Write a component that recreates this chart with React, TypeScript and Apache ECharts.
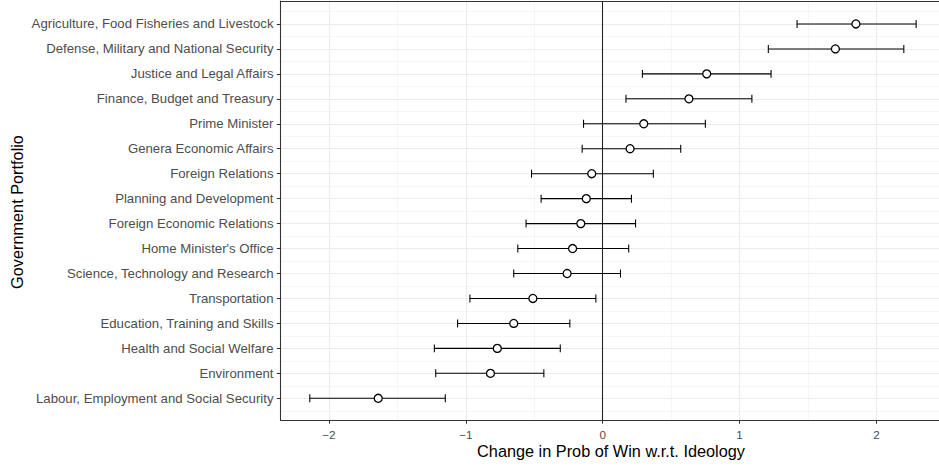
import React, { useEffect, useRef } from 'react';
import * as echarts from 'echarts';

// Categories listed top to bottom
const categories = [
  'Agriculture, Food Fisheries and Livestock',
  'Defense, Military and National Security',
  'Justice and Legal Affairs',
  'Finance, Budget and Treasury',
  'Prime Minister',
  'Genera Economic Affairs',
  'Foreign Relations',
  'Planning and Development',
  'Foreign Economic Relations',
  "Home Minister's Office",
  'Science, Technology and Research',
  'Transportation',
  'Education, Training and Skills',
  'Health and Social Welfare',
  'Environment',
  'Labour, Employment and Social Security',
];
const estimates = [1.85, 1.70, 0.76, 0.63, 0.30, 0.20, -0.08, -0.12, -0.16, -0.22, -0.26, -0.51, -0.65, -0.77, -0.82, -1.64];
const lowers = [1.42, 1.21, 0.29, 0.17, -0.14, -0.15, -0.52, -0.45, -0.56, -0.62, -0.65, -0.97, -1.06, -1.23, -1.22, -2.14];
const uppers = [2.29, 2.20, 1.23, 1.09, 0.75, 0.57, 0.37, 0.21, 0.24, 0.19, 0.13, -0.05, -0.24, -0.31, -0.43, -1.15];
const xTicks = [-2, -1, 0, 1, 2];
const xMinorTicks = [-1.5, -0.5, 0.5, 1.5];
const xTitle = 'Change in Prob of Win w.r.t. Ideology';
const yTitle = 'Government Portfolio';

const FONT = '"Liberation Sans", Arial, Helvetica, sans-serif';

export default function App() {
  const ref = useRef<HTMLDivElement>(null);
  useEffect(() => {
    if (!ref.current) return;
    const chart = echarts.init(ref.current, undefined, { renderer: 'svg' });
    const n = categories.length;
    const yPos = categories.map((_, i) => n - i);
    const yTicks = yPos.slice().sort((a, b) => a - b);
    const yMinor: number[] = [];
    for (let k = 0; k <= n; k++) yMinor.push(k + 0.5);
    const yName = (v: number) => categories[n - Math.round(v)] ?? '';

    const xMin = -2.354;
    const xMax = 2.457;
    const yMin = 0.13;
    const yMax = 16.92;
    const major = { color: '#ebebeb', width: 1.07 };
    const minor = { color: '#f0f0f0', width: 0.6 };
    const dark = '#333333';

    chart.setOption({
      animation: false,
      grid: { left: 280.5, right: 0, top: 1, bottom: 50 },
      xAxis: [
        {
          type: 'value', position: 'bottom', min: xMin, max: xMax,
          axisLine: { show: true, onZero: false, lineStyle: { color: dark, width: 1.07 } },
          axisTick: { show: true, length: 3.7, customValues: xTicks, lineStyle: { color: dark, width: 1.07 } },
          axisLabel: {
            customValues: xTicks, margin: 8, color: '#4d4d4d', fontSize: 11.7, fontFamily: FONT,
            formatter: (v: number) => String(v).replace('-', '\u2212'),
          },
          splitLine: { show: true, lineStyle: major },
        },
        {
          type: 'value', position: 'top', min: xMin, max: xMax,
          axisLine: { show: true, onZero: false, lineStyle: { color: dark, width: 1.07 } },
          axisTick: { show: false, customValues: xMinorTicks },
          axisLabel: { show: false, customValues: xMinorTicks },
          splitLine: { show: true, lineStyle: minor },
        },
      ],
      yAxis: [
        {
          type: 'value', position: 'left', min: yMin, max: yMax,
          axisLine: { show: true, onZero: false, lineStyle: { color: dark, width: 1.07 } },
          axisTick: { show: true, length: 3.7, customValues: yTicks, lineStyle: { color: dark, width: 1.07 } },
          axisLabel: {
            customValues: yTicks, margin: 7, color: '#4d4d4d', fontSize: 13.2, fontFamily: FONT,
            formatter: (v: number) => yName(v),
          },
          splitLine: { show: true, lineStyle: major },
        },
        {
          type: 'value', position: 'right', min: yMin, max: yMax,
          axisLine: { show: false, onZero: false },
          axisTick: { show: false, customValues: yMinor },
          axisLabel: { show: false, customValues: yMinor },
          splitLine: { show: true, lineStyle: minor },
        },
      ],
      graphic: [
        {
          type: 'text', x: 611, y: 451,
          style: { text: xTitle, fontSize: 16.3, fontFamily: FONT, fill: '#000', align: 'center', verticalAlign: 'middle' },
        },
        {
          type: 'text', x: 17, y: 212, rotation: Math.PI / 2,
          style: { text: yTitle, fontSize: 16.3, fontFamily: FONT, fill: '#000', align: 'center', verticalAlign: 'middle' },
        },
      ],
      series: [
        {
          type: 'custom',
          xAxisIndex: 0, yAxisIndex: 0,
          encode: { x: [0, 1], y: 2 },
          data: categories.map((_, i) => [lowers[i], uppers[i], yPos[i]]),
          renderItem: (params: any, api: any) => {
            const y = api.value(2);
            const p1 = api.coord([api.value(0), y]);
            const p2 = api.coord([api.value(1), y]);
            const h = api.size([0, 0.16])[1];
            const style = { stroke: '#000', lineWidth: 1.07 };
            return {
              type: 'group',
              children: [
                { type: 'line', shape: { x1: p1[0], y1: p1[1], x2: p2[0], y2: p2[1] }, style },
                { type: 'line', shape: { x1: p1[0], y1: p1[1] - h, x2: p1[0], y2: p1[1] + h }, style },
                { type: 'line', shape: { x1: p2[0], y1: p2[1] - h, x2: p2[0], y2: p2[1] + h }, style },
              ],
            };
          },
          markLine: {
            silent: true,
            symbol: ['none', 'none'],
            label: { show: false },
            lineStyle: { color: '#222', width: 1.07, type: 'solid' },
            data: [{ xAxis: 0 }],
          },
          z: 3,
        },
        {
          type: 'scatter',
          xAxisIndex: 0, yAxisIndex: 0,
          data: categories.map((_, i) => [estimates[i], yPos[i]]),
          symbol: 'circle',
          symbolSize: 8,
          itemStyle: { color: '#fff', borderColor: '#000', borderWidth: 1.3, opacity: 1 },
          z: 4,
        },
      ],
    });
    return () => chart.dispose();
  }, []);
  return <div ref={ref} style={{ width: 939, height: 470, position: 'absolute', left: 0, top: 0 }} />;
}
